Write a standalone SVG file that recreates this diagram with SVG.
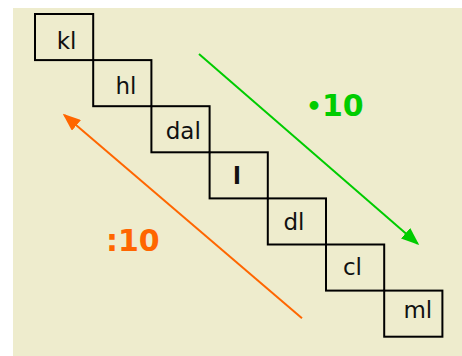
<svg xmlns="http://www.w3.org/2000/svg" width="462" height="356" viewBox="0 0 462 356">
<style>
.box{fill:none;stroke:#000;stroke-width:2}
.t{font-family:"DejaVu Sans",Verdana,sans-serif;font-size:23px;fill:#111;text-anchor:middle}
.lbl{font-family:"DejaVu Sans",Verdana,sans-serif;font-size:30px;font-weight:bold}
</style>
<defs>
<marker id="ag" markerWidth="9" markerHeight="7" refX="8" refY="3.5" orient="auto" markerUnits="strokeWidth"><path d="M0,0 L9,3.5 L0,7 z" fill="#00CC00"/></marker>
<marker id="ao" markerWidth="9" markerHeight="7" refX="8" refY="3.5" orient="auto" markerUnits="strokeWidth"><path d="M0,0 L9,3.5 L0,7 z" fill="#FF6600"/></marker>
</defs>
<rect x="13" y="8" width="449" height="348" fill="#EEECCD"/>
<g id="kl"><rect class="box" x="35" y="14" width="58.2" height="46.1"/><text class="t" x="66.5" y="49">kl</text></g>
<g id="hl"><rect class="box" x="93.2" y="60.1" width="58.2" height="46.1"/><text class="t" x="126" y="94">hl</text></g>
<g id="dal"><rect class="box" x="151.4" y="106.2" width="58.2" height="46.1"/><text class="t" x="183.3" y="139">dal</text></g>
<g id="l"><rect class="box" x="209.6" y="152.3" width="58.2" height="46.1"/><text class="t" x="237" y="183.5" font-weight="bold">l</text></g>
<g id="dl"><rect class="box" x="267.8" y="198.4" width="58.2" height="46.1"/><text class="t" x="294" y="229.7">dl</text></g>
<g id="cl"><rect class="box" x="326" y="244.5" width="58.2" height="46.1"/><text class="t" x="352.5" y="274.7">cl</text></g>
<g id="ml"><rect class="box" x="384.2" y="290.6" width="58.2" height="46.1"/><text class="t" x="417.8" y="318">ml</text></g>
<g id="connectors">
<line x1="199" y1="54" x2="417.7" y2="243.7" stroke="#00CC00" stroke-width="2" marker-end="url(#ag)"/>
<line x1="302" y1="318.3" x2="64.3" y2="115" stroke="#FF6600" stroke-width="2" marker-end="url(#ao)"/>
</g>
<text class="lbl" x="306" y="116" fill="#00CC00"><tspan font-size="25" dy="-1">•</tspan><tspan dy="1">10</tspan></text>
<text class="lbl" x="106" y="250.7" fill="#FF6600">:10</text>
</svg>
